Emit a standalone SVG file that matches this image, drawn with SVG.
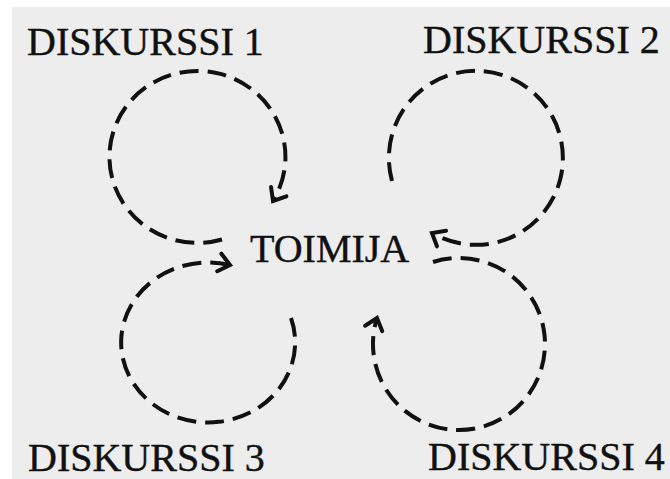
<svg xmlns="http://www.w3.org/2000/svg" width="670" height="479" viewBox="0 0 670 479">
<style>
.lbl{font-family:"Liberation Serif","Times New Roman",serif;font-size:40px;fill:#111;stroke:#111;stroke-width:0.4;}
.loop{fill:none;stroke:#111;stroke-width:4;stroke-dasharray:19 9;stroke-linecap:butt;}
.head{fill:none;stroke:#111;stroke-width:4;stroke-linecap:round;stroke-linejoin:miter;}
</style>
<defs>
<marker id="arr" markerUnits="userSpaceOnUse" markerWidth="22" markerHeight="22" viewBox="0 0 22 22" refX="15" refY="11" orient="auto" overflow="visible">
<path class="head" d="M4,2 L15,11 L4,20"/>
</marker>
</defs>
<rect x="0" y="0" width="670" height="479" fill="#ffffff"/>
<rect x="12" y="7" width="658" height="472" fill="#ededed"/>
<g id="connectors">
<path class="loop" d="M222,239.5 A88,86 0 1 1 273,201" marker-end="url(#arr)"/>
<path class="loop" d="M392,181 A87,87 0 1 1 432,233" marker-end="url(#arr)"/>
<path class="loop" d="M291,318 A87,80 0 1 1 230,265" marker-end="url(#arr)"/>
<path class="loop" d="M433,262 A86,86 0 1 1 377,318" marker-end="url(#arr)"/>
</g>
<g id="toimija"><text class="lbl" x="250" y="262">TOIMIJA</text></g>
<g id="diskurssi1"><text class="lbl" x="27" y="55">DISKURSSI 1</text></g>
<g id="diskurssi2"><text class="lbl" x="423" y="53">DISKURSSI 2</text></g>
<g id="diskurssi3"><text class="lbl" x="28" y="471">DISKURSSI 3</text></g>
<g id="diskurssi4"><text class="lbl" x="428" y="470">DISKURSSI 4</text></g>
</svg>
